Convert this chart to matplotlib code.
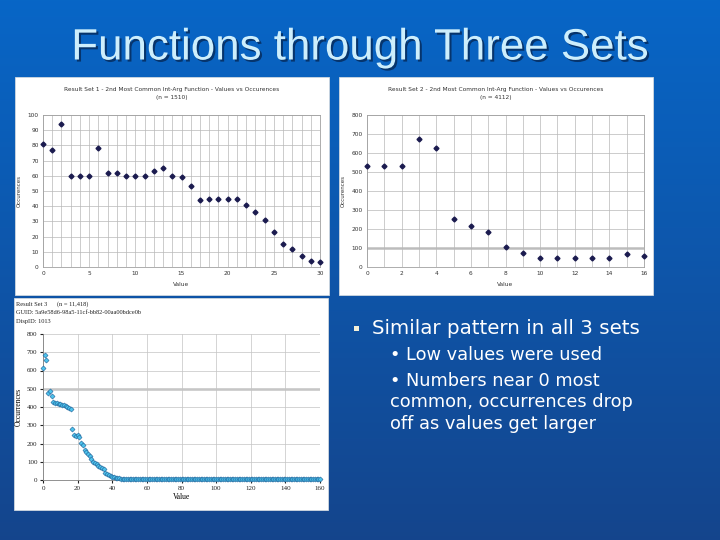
import numpy as np
import matplotlib.pyplot as plt
import matplotlib.patheffects as pe
from matplotlib.patches import Rectangle

# Result set 1
set1_values = list(range(0, 31))
set1_counts = [81, 77, 94, 60, 60, 60, 78, 62, 62, 60, 60, 60, 63, 65, 60, 59,
               53, 44, 45, 45, 45, 45, 41, 36, 31, 23, 15, 12, 7, 4, 3]

# Result set 2
set2_values = list(range(0, 17))
set2_counts = [530, 530, 530, 676, 625, 255, 218, 183, 107, 72, 50, 45, 45, 45,
               45, 70, 58]

# Result set 3
set3_values = list(range(0, 161))
set3_counts = [615, 685, 655, 475, 485, 462, 425, 422, 420, 418, 415, 412, 410,
               405, 400, 395, 390, 278, 246, 242, 247, 238, 201, 192, 165, 156,
               141, 130, 115, 101, 92, 85, 79, 73, 67, 60, 38, 32, 26, 22, 18,
               14, 11, 9, 9, 8, 8, 8, 8, 7, 7, 8, 7, 7, 7, 6, 7, 6, 6, 6,
               6, 6, 5, 6, 5, 5, 6, 5, 5, 5, 5, 5, 6, 5, 5, 5, 5, 5, 5, 5,
               5, 4, 5, 5, 5, 4, 5, 5, 4, 5, 4, 5, 5, 4, 4, 5, 4, 4, 5, 4,
               4, 4, 4, 5, 4, 4, 4, 4, 4, 4, 5, 4, 4, 4, 4, 4, 4, 4, 4, 4,
               4, 4, 4, 3, 4, 4, 4, 4, 3, 4, 4, 4, 4, 4, 3, 4, 4, 4, 4, 3,
               4, 4, 4, 3, 4, 4, 4, 3, 4, 4, 4, 4, 3, 4, 4, 4, 3, 4, 4, 4, 4]

title = "Functions through Three Sets"
bullet = "Similar pattern in all 3 sets"
sub_lines = ["\u2022 Low values were used",
             "\u2022 Numbers near 0 most",
             "common, occurrences drop",
             "off as values get larger"]

W, H = 720, 540


def fx(x):
    return x / W


def fy(y):
    return 1 - y / H


fig = plt.figure(figsize=(7.2, 5.4), dpi=100)

# slide background
bg = fig.add_axes([0, 0, 1, 1])
grad = np.linspace(0, 1, 256).reshape(-1, 1)
top = np.array([0.03, 0.40, 0.78])
bot = np.array([0.08, 0.27, 0.55])
img = top + (bot - top) * grad[..., None]
img = img.reshape(256, 1, 3)
bg.imshow(img, aspect="auto", extent=[0, 1, 0, 1])
bg.set_axis_off()

# white chart panels
for (x0, y0, x1, y1) in [(15, 77, 329, 295), (339, 77, 653, 295), (14, 298, 328, 510)]:
    fig.patches.append(Rectangle((fx(x0), fy(y1)), fx(x1 - x0), (y1 - y0) / H,
                                 transform=fig.transFigure, facecolor="white",
                                 edgecolor="#d0d8e0", lw=0.6, zorder=1))

fig.text(0.5, fy(48), title, ha="center", va="center", fontsize=31.6,
         family="Liberation Sans", color="#cdeefc",
         path_effects=[pe.SimplePatchShadow(offset=(1.5, -1.5), shadow_rgbFace="#062f63", alpha=0.9),
                       pe.Normal()])

navy = "#1b1b4f"


def small_axes(left, top, right, bottom):
    ax = fig.add_axes([fx(left), fy(bottom), fx(right - left), (bottom - top) / H])
    ax.set_zorder(2)
    return ax


# chart 1
ax1 = small_axes(43, 115, 320, 267)
ax1.set_xlim(0, 30)
ax1.set_ylim(0, 100)
ax1.set_xticks(range(0, 31, 5))
ax1.set_xticks(range(0, 31), minor=True)
ax1.set_yticks(range(0, 101, 10))
ax1.grid(True, which="both", axis="x", color="#b8b8b8", lw=0.5)
ax1.grid(True, axis="y", color="#b8b8b8", lw=0.5)
ax1.plot(set1_values, set1_counts, "D", ms=2.5, color=navy, clip_on=False, zorder=3)
fig.text(fx(172), fy(90), "Result Set 1 - 2nd Most Common Int-Arg Function - Values vs Occurences",
         ha="center", va="center", fontsize=4.2, color="#333333")
fig.text(fx(172), fy(97), "(n = 1510)", ha="center", va="center", fontsize=4.2, color="#333333")
ax1.set_ylabel("Occurences", fontsize=4, labelpad=4, color="#333333")
ax1.set_xlabel("Value", fontsize=4.2, labelpad=4, color="#333333")

# chart 2
ax2 = small_axes(367, 115, 644, 267)
ax2.set_xlim(0, 16)
ax2.set_ylim(0, 800)
ax2.set_xticks(range(0, 17, 2))
ax2.set_xticks(range(0, 17), minor=True)
ax2.set_yticks(range(0, 801, 100))
ax2.grid(True, which="both", axis="x", color="#b8b8b8", lw=0.5)
ax2.grid(True, axis="y", color="#b8b8b8", lw=0.5)
ax2.axhline(100, color="#c8c8c8", lw=2, zorder=0)
ax2.plot(set2_values, set2_counts, "D", ms=2.5, color=navy, clip_on=False, zorder=3)
fig.text(fx(496), fy(90), "Result Set 2 - 2nd Most Common Int-Arg Function - Values vs Occurences",
         ha="center", va="center", fontsize=4.2, color="#333333")
fig.text(fx(496), fy(97), "(n = 4112)", ha="center", va="center", fontsize=4.2, color="#333333")
ax2.set_ylabel("Occurences", fontsize=4, labelpad=4, color="#333333")
ax2.set_xlabel("Value", fontsize=4.2, labelpad=4, color="#333333")

for ax in (ax1, ax2):
    ax.tick_params(labelsize=4.2, length=0, pad=3, colors="#333333")
    ax.tick_params(which="minor", length=0)
    for s in ax.spines.values():
        s.set_color("#a0a0a0")
        s.set_linewidth(0.6)

# chart 3
ax3 = small_axes(43, 334, 320, 480)
ax3.set_xlim(0, 160)
ax3.set_ylim(0, 800)
ax3.set_xticks(range(0, 161, 20))
ax3.set_yticks(range(0, 801, 100))
ax3.grid(True, color="#c4c4c4", lw=0.5)
ax3.axhline(500, color="#cccccc", lw=2, zorder=0)
ax3.plot(set3_values, set3_counts, "D", ms=2.6, mfc="#4cc3ec", mec="#1f5f96",
         mew=0.4, clip_on=False, zorder=3)
ax3.tick_params(labelsize=5, length=2, pad=2, colors="#222222")
for lab in ax3.get_xticklabels() + ax3.get_yticklabels():
    lab.set_family("Liberation Serif")
for s in ("top", "right"):
    ax3.spines[s].set_visible(False)
for s in ("left", "bottom"):
    ax3.spines[s].set_color("#808080")
    ax3.spines[s].set_linewidth(0.6)
ax3.set_ylabel("Occurrences", fontsize=5.5, family="Liberation Serif", labelpad=3)
ax3.set_xlabel("Value", fontsize=5.5, family="Liberation Serif", labelpad=2)
for i, line in enumerate(["Result Set 3      (n = 11,418)",
                          "GUID: 5a9e58d6-98a5-11cf-bb82-00aa00bdce0b",
                          "DispID: 1013"]):
    fig.text(fx(16), fy(304 + i * 9), line, ha="left", va="center", fontsize=4.6,
             family="Liberation Serif", color="#222222")

# bullet text
fig.patches.append(Rectangle((fx(354), fy(331)), fx(5), 5 / H, transform=fig.transFigure,
                             facecolor="#f4f0d8", edgecolor="none", zorder=3))
fig.text(fx(372), fy(328), bullet, ha="left", va="center", fontsize=14.3,
         family="DejaVu Sans", color="white")
sub_y = [355, 381, 402, 424]
sub_x = [390, 390, 390, 390]
for t, xx, yy in zip(sub_lines, sub_x, sub_y):
    fig.text(fx(xx), fy(yy), t, ha="left", va="center", fontsize=12.8,
             family="DejaVu Sans", color="white")

fig.savefig("out.png", dpi=100)
